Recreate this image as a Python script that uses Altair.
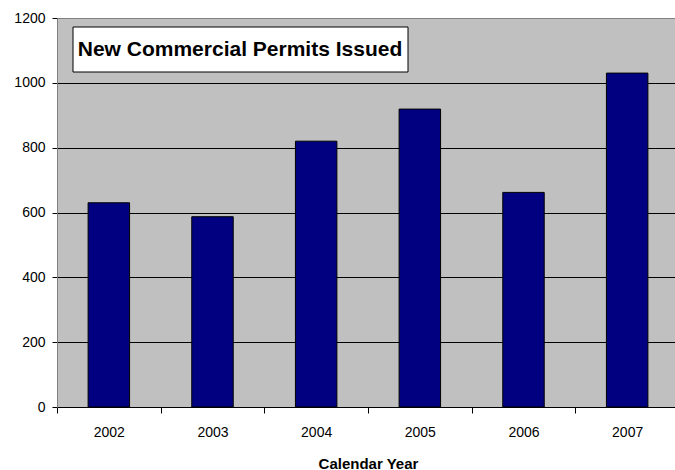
import altair as alt
import pandas as pd

years = ["2002", "2003", "2004", "2005", "2006", "2007"]
permits = [630, 587, 820, 919, 662, 1030]
chart_title = "New Commercial Permits Issued"
x_title = "Calendar Year"

df = pd.DataFrame({"year": years, "permits": permits})
tdf = pd.DataFrame({"label": [chart_title]})

FONT = "Liberation Sans"

bars = alt.Chart(df).mark_bar(
    color="#000080", stroke="#000000", strokeWidth=1
).encode(
    x=alt.X(
        "year:N",
        sort=years,
        scale=alt.Scale(paddingInner=0.6, paddingOuter=0.3, range=[0, 622]),
        axis=alt.Axis(
            title=x_title,
            titleFont=FONT,
            titleFontSize=15,
            titleFontWeight="bold",
            titleColor="#000000",
            titlePadding=17,
            labelFont=FONT,
            labelFontSize=14,
            labelColor="#000000",
            labelAngle=0,
            labelPadding=12,
            tickOffset=-51.85,
            labelOffset=51.85,
            tickSize=6,
            tickColor="#000000",
            domainColor="#000000",
            grid=False,
        ),
    ),
    y=alt.Y(
        "permits:Q",
        scale=alt.Scale(domain=[0, 1200], nice=False),
        axis=alt.Axis(
            title=None,
            values=[0, 200, 400, 600, 800, 1000, 1200],
            format="d",
            labelFont=FONT,
            labelFontSize=14,
            labelColor="#000000",
            labelPadding=7,
            tickSize=5,
            tickColor="#000000",
            domainColor="#808080",
            grid=True,
            gridColor={"condition": {"test": "datum.value === 1200", "value": "#808080"}, "value": "#000000"},
            gridWidth=1,
        ),
    ),
)

box = alt.Chart(tdf).mark_rect(fill="#FFFFFF", stroke="#000000", strokeWidth=1).encode(
    x=alt.value(16), x2=alt.value(351), y=alt.value(9), y2=alt.value(54)
)

txt = alt.Chart(tdf).mark_text(
    font=FONT, fontSize=21, fontWeight="bold", color="#000000",
    align="center", baseline="middle"
).encode(
    x=alt.value(183), y=alt.value(32), text="label:N"
)

chart = alt.layer(bars, box, txt).properties(
    width=618,
    height=389,
    padding={"left": 57, "top": 18, "right": 0, "bottom": 63},
    autosize=alt.AutoSizeParams(type="none"),
    background="#FFFFFF",
).configure_view(
    fill="#C0C0C0", stroke=None
)

chart.save("out.html", embed_options={"renderer": "svg", "actions": False})
